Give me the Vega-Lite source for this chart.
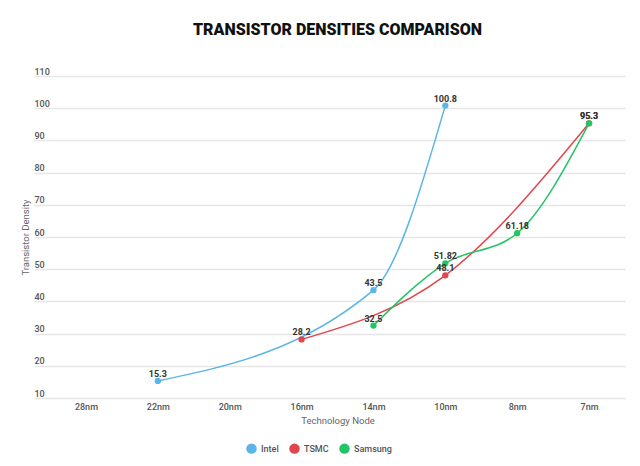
{
  "$schema": "https://vega.github.io/schema/vega-lite/v6.json",
  "autosize": "none",
  "padding": {"left": 50, "top": 76, "right": 15, "bottom": 68},
  "width": 575,
  "height": 322,
  "title": {
    "text": "TRANSISTOR DENSITIES COMPARISON",
    "font": "Roboto",
    "fontSize": 16,
    "fontWeight": 900,
    "color": "#111111",
    "anchor": "middle",
    "offset": 29
  },
  "data": {
    "values": [
      {"node": "22nm", "company": "Intel", "density": 15.3},
      {"node": "14nm", "company": "Intel", "density": 43.5},
      {"node": "10nm", "company": "Intel", "density": 100.8},
      {"node": "16nm", "company": "TSMC", "density": 28.2},
      {"node": "10nm", "company": "TSMC", "density": 48.1},
      {"node": "7nm", "company": "TSMC", "density": 95.3},
      {"node": "14nm", "company": "Samsung", "density": 32.5},
      {"node": "10nm", "company": "Samsung", "density": 51.82},
      {"node": "8nm", "company": "Samsung", "density": 61.18},
      {"node": "7nm", "company": "Samsung", "density": 95.3}
    ]
  },
  "encoding": {
    "x": {
      "field": "node",
      "type": "nominal",
      "sort": ["28nm", "22nm", "20nm", "16nm", "14nm", "10nm", "8nm", "7nm"],
      "scale": {
        "type": "point",
        "domain": ["28nm", "22nm", "20nm", "16nm", "14nm", "10nm", "8nm", "7nm"],
        "padding": 0.5
      },
      "axis": {
        "title": "Technology Node",
        "labelAngle": 0,
        "ticks": false,
        "domain": false,
        "grid": false,
        "labelPadding": 4,
        "labelFont": "Roboto",
        "labelFontSize": 9,
        "labelFontWeight": 500,
        "labelColor": "#555555",
        "titleFont": "Roboto",
        "titleFontSize": 9.5,
        "titleFontWeight": "normal",
        "titleColor": "#666666",
        "titlePadding": 4
      }
    },
    "y": {
      "field": "density",
      "type": "quantitative",
      "scale": {"domain": [10, 110], "nice": false, "zero": false},
      "axis": {
        "title": "Transistor Density",
        "values": [10, 20, 30, 40, 50, 60, 70, 80, 90, 100, 110],
        "domain": false,
        "tickSize": 16,
        "tickColor": "#e6e6e6",
        "tickWidth": 1.5,
        "gridColor": "#e6e6e6",
        "gridWidth": 1.5,
        "labelAlign": "left",
        "labelBaseline": "bottom",
        "labelPadding": 0,
        "labelDy": -2,
        "labelFont": "Roboto",
        "labelFontSize": 9,
        "labelFontWeight": 500,
        "labelColor": "#555555",
        "titleFont": "Roboto",
        "titleFontSize": 9.5,
        "titleFontWeight": "normal",
        "titleColor": "#666666",
        "titlePadding": 3
      }
    },
    "color": {
      "field": "company",
      "type": "nominal",
      "scale": {
        "domain": ["Intel", "TSMC", "Samsung"],
        "range": ["#5bb5e6", "#e0474c", "#22c465"]
      },
      "legend": {
        "title": null,
        "orient": "none",
        "legendX": 196,
        "legendY": 367,
        "direction": "horizontal",
        "symbolType": "circle",
        "symbolSize": 110,
        "symbolStrokeWidth": 0,
        "labelFont": "Roboto",
        "labelFontSize": 9,
        "labelFontWeight": 500,
        "labelColor": "#555555",
        "columnPadding": 10
      }
    }
  },
  "layer": [
    {
      "mark": {"type": "line", "interpolate": "monotone", "strokeWidth": 1.5}
    },
    {
      "mark": {"type": "point", "filled": true, "size": 40, "opacity": 1}
    },
    {
      "mark": {
        "type": "text",
        "dy": -7,
        "font": "Roboto",
        "fontSize": 9,
        "fontWeight": "bold",
        "color": "#333333"
      },
      "encoding": {
        "text": {"field": "density", "type": "quantitative"},
        "color": {"value": "#333333"}
      }
    }
  ],
  "config": {
    "view": {"stroke": null}
  }
}
